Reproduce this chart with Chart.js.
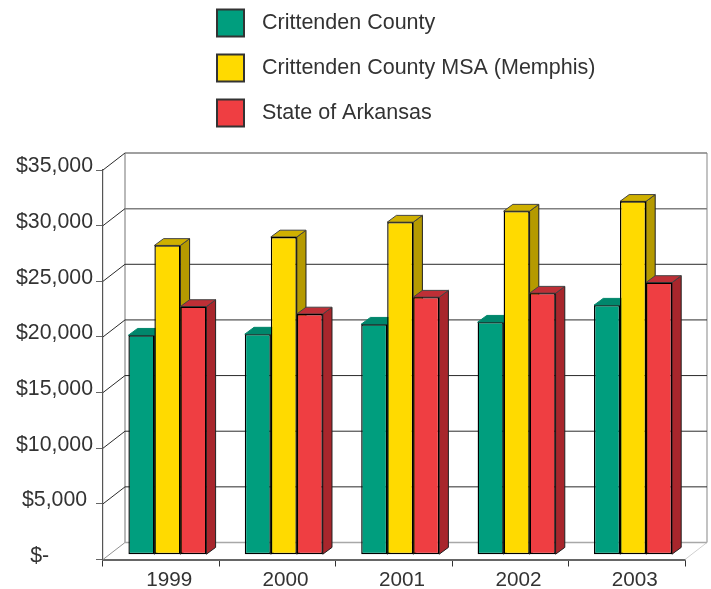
<!DOCTYPE html>
<html>
<head>
<meta charset="utf-8">
<script src="https://cdn.jsdelivr.net/npm/chart.js@4"></script>
<style>html,body{margin:0;padding:0;background:#fff}canvas{display:block}</style>
</head>
<body>
<canvas id="c" width="711" height="589"></canvas>
<script>
const categories = ['1999','2000','2001','2002','2003'];
const crittenden = [19720,19820,20710,20890,22420];
const memphis = [27790,28550,29880,30870,31750];
const arkansas = [22300,21630,23140,23500,24460];
const seriesNames = ['Crittenden County','Crittenden County MSA (Memphis)','State of Arkansas'];
const tickLabels = {0:'$-\u00A0\u00A0\u00A0\u00A0\u00A0',5000:'$5,000',10000:'$10,000',15000:'$15,000',20000:'$20,000',25000:'$25,000',30000:'$30,000',35000:'$35,000'};
const fills = ['#009E7E','#FFDA00','#EF3E42'];
const tops = ['#00876C','#CFB000','#BE2F36'];
const sides = ['#007A62','#B59A00','#A8262C'];

const FONT = '"Liberation Sans", Arial, sans-serif';
const TEXT = '#333333';
const WALL = {dx:22, dy:-17};
const BAR = {dx:6.2, dy:-4.8};
const DEPTH = {dx:9.2, dy:-6.8};

function line(ctx,x1,y1,x2,y2,color,w){
  ctx.beginPath();ctx.moveTo(x1,y1);ctx.lineTo(x2,y2);
  ctx.strokeStyle=color;ctx.lineWidth=w;ctx.stroke();
}
function poly(ctx,pts,fill,stroke){
  ctx.beginPath();pts.forEach((p,i)=>i?ctx.lineTo(p[0],p[1]):ctx.moveTo(p[0],p[1]));ctx.closePath();
  ctx.fillStyle=fill;ctx.fill();
  ctx.strokeStyle=stroke;ctx.lineWidth=1;ctx.lineJoin='round';ctx.stroke();
}

const walls = {
  id:'walls',
  beforeDatasetsDraw(chart){
    const {ctx,chartArea:a,scales:{y}} = chart;
    ctx.save();
    const L=a.left,R=a.right,bx=L+WALL.dx,rx=R+WALL.dx;
    line(ctx,bx,y.getPixelForValue(35000)+WALL.dy,bx,y.getPixelForValue(0)+WALL.dy,'#8a8a8a',1.2);
    line(ctx,rx,y.getPixelForValue(35000)+WALL.dy,rx,y.getPixelForValue(0)+WALL.dy,'#9a9a9a',1.2);
    line(ctx,R,a.bottom,rx,a.bottom+WALL.dy,'#d0d0d0',1);
    y.ticks.forEach(t=>{
      const py=y.getPixelForValue(t.value);
      const gray=t.value>=30000||t.value===0;
      const col=gray?'#808080':'#2a2a2a';
      const w=gray?1.5:1;
      line(ctx,bx,py+WALL.dy,rx,py+WALL.dy,t.value===0?'#a8a8a8':col,w);
      line(ctx,L,py,bx,py+WALL.dy,t.value===0?'#909090':'#2a2a2a',1);
    });
    ctx.restore();
  }
};

const bars3d = {
  id:'bars3d',
  beforeDatasetDraw(){ return false; },
  afterDatasetsDraw(chart){
    const {ctx}=chart;
    chart.data.datasets.forEach((d,i)=>{
      const meta=chart.getDatasetMeta(i);
      ctx.save();
      ctx.translate(BAR.dx,BAR.dy);
      meta.data.forEach(el=>{
        const p=el.getProps(['x','y','width','base'],true);
        const l=p.x-p.width/2,r=p.x+p.width/2,t=p.y,b=p.base;
        poly(ctx,[[r,t],[r+DEPTH.dx,t+DEPTH.dy],[r+DEPTH.dx,b+DEPTH.dy],[r,b]],sides[i],'#222');
        poly(ctx,[[l,t],[l+DEPTH.dx,t+DEPTH.dy],[r+DEPTH.dx,t+DEPTH.dy],[r,t]],tops[i],i===0?tops[0]:'#444');
      });
      meta.controller.draw();
      ctx.restore();
    });
  }
};

const keyLegend = {
  id:'keyLegend',
  afterDraw(chart){
    const {ctx}=chart;
    ctx.save();
    chart.data.datasets.forEach((d,i)=>{
      const top=9.5+i*45;
      ctx.fillStyle=d.backgroundColor;
      ctx.fillRect(217,top,27,27);
      ctx.strokeStyle='#333';ctx.lineWidth=2;
      ctx.strokeRect(217,top,27,27);
      ctx.fillStyle=TEXT;
      ctx.font='21.5px '+FONT;
      ctx.textAlign='left';ctx.textBaseline='middle';
      ctx.fillText(d.label,262,top+14);
    });
    ctx.restore();
  }
};

const common = {borderColor:'#000',borderWidth:1.4,borderSkipped:false,clip:false,barPercentage:1,categoryPercentage:0.67};
new Chart(document.getElementById('c'),{
  type:'bar',
  data:{labels:categories,datasets:[
    {label:seriesNames[0],data:crittenden,backgroundColor:fills[0],...common},
    {label:seriesNames[1],data:memphis,backgroundColor:fills[1],...common},
    {label:seriesNames[2],data:arkansas,backgroundColor:fills[2],...common}
  ]},
  options:{
    responsive:false,animation:false,
    layout:{padding:{top:170,right:26,bottom:0,left:0}},
    plugins:{legend:{display:false},tooltip:{enabled:false},title:{display:false}},
    scales:{
      x:{
        afterFit(s){s.height=29.5;},
        border:{display:true,color:'#666',width:2},
        grid:{drawOnChartArea:false,drawTicks:true,tickLength:7,color:'#333',lineWidth:1},
        ticks:{color:TEXT,font:{family:FONT,size:20.7},padding:1,maxRotation:0,labelOffset:8}
      },
      y:{
        min:0,max:35000,
        afterFit(s){s.width=103;},
        border:{display:true,color:'#555',width:1.2},
        grid:{drawOnChartArea:false,drawTicks:true,tickLength:7,color:'#666',lineWidth:1},
        ticks:{stepSize:5000,color:TEXT,font:{family:FONT,size:21.3},padding:3,labelOffset:-3.5,crossAlign:'center',
          callback:v=>tickLabels[v]}
      }
    }
  },
  plugins:[walls,bars3d,keyLegend]
});
</script>
</body>
</html>
